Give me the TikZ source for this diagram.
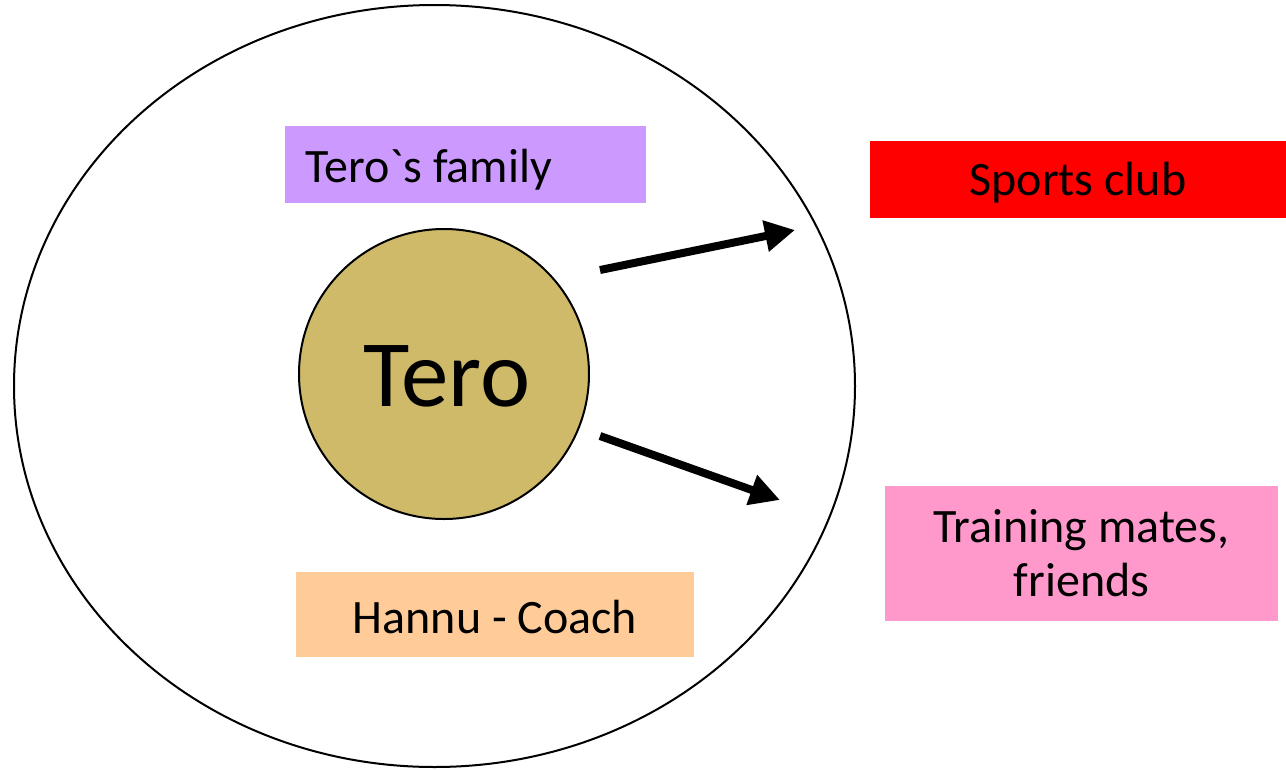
\documentclass[tikz,border=0pt]{standalone}
\usepackage{fontspec}
\setmainfont{Carlito}
\usetikzlibrary{arrows.meta,shapes.geometric}
\definecolor{famcol}{HTML}{CC99FF}
\definecolor{clubcol}{HTML}{FF0000}
\definecolor{matecol}{HTML}{FF99CC}
\definecolor{coachcol}{HTML}{FFCC99}
\definecolor{terocol}{HTML}{CFBA6A}
\begin{document}
\begin{tikzpicture}[x=1pt,y=-1pt,
  box/.style={rectangle,inner sep=0pt,draw=none},
  lbl/.style={font=\fontsize{48}{54}\selectfont,inner sep=0pt,align=center},
  bigarrow/.style={line width=8pt,-{Triangle[length=30pt,width=30pt]}}]
\useasboundingbox (0,0) rectangle (1286,769);
\node[ellipse,draw,line width=2pt,minimum width=841pt,minimum height=762pt,inner sep=0pt] (outer) at (434.5,386) {};
\node[circle,draw,line width=2pt,fill=terocol,minimum size=290pt,inner sep=0pt] (tero) at (444,374) {};
\node[inner sep=0pt,font=\fontsize{95}{98}\selectfont] (terotxt) at (447,376) {Tero};
\node[box,fill=famcol,minimum width=361pt,minimum height=77pt] (fam) at (465.5,164.5) {};
\node[lbl,anchor=base west] (famtxt) at (305,182) {Tero\textasciigrave s family};
\node[box,fill=clubcol,minimum width=416pt,minimum height=77pt] (club) at (1078,179.5) {};
\node[lbl] (clubtxt) at (1078,183) {Sports club};
\node[box,fill=matecol,minimum width=393pt,minimum height=135pt] (mates) at (1081.5,553.5) {};
\node[lbl] (matestxt) at (mates.center) {Training mates,\\friends};
\node[box,fill=coachcol,minimum width=398pt,minimum height=85pt] (coach) at (495,614.5) {};
\node[lbl] (coachtxt) at (495,617) {Hannu - Coach};
\coordinate (a1s) at (600,270);
\coordinate (a1e) at (795,230);
\coordinate (a2s) at (600,436);
\coordinate (a2e) at (780,500);
\draw[bigarrow] (a1s) -- (a1e);
\draw[bigarrow] (a2s) -- (a2e);
\end{tikzpicture}
\end{document}
